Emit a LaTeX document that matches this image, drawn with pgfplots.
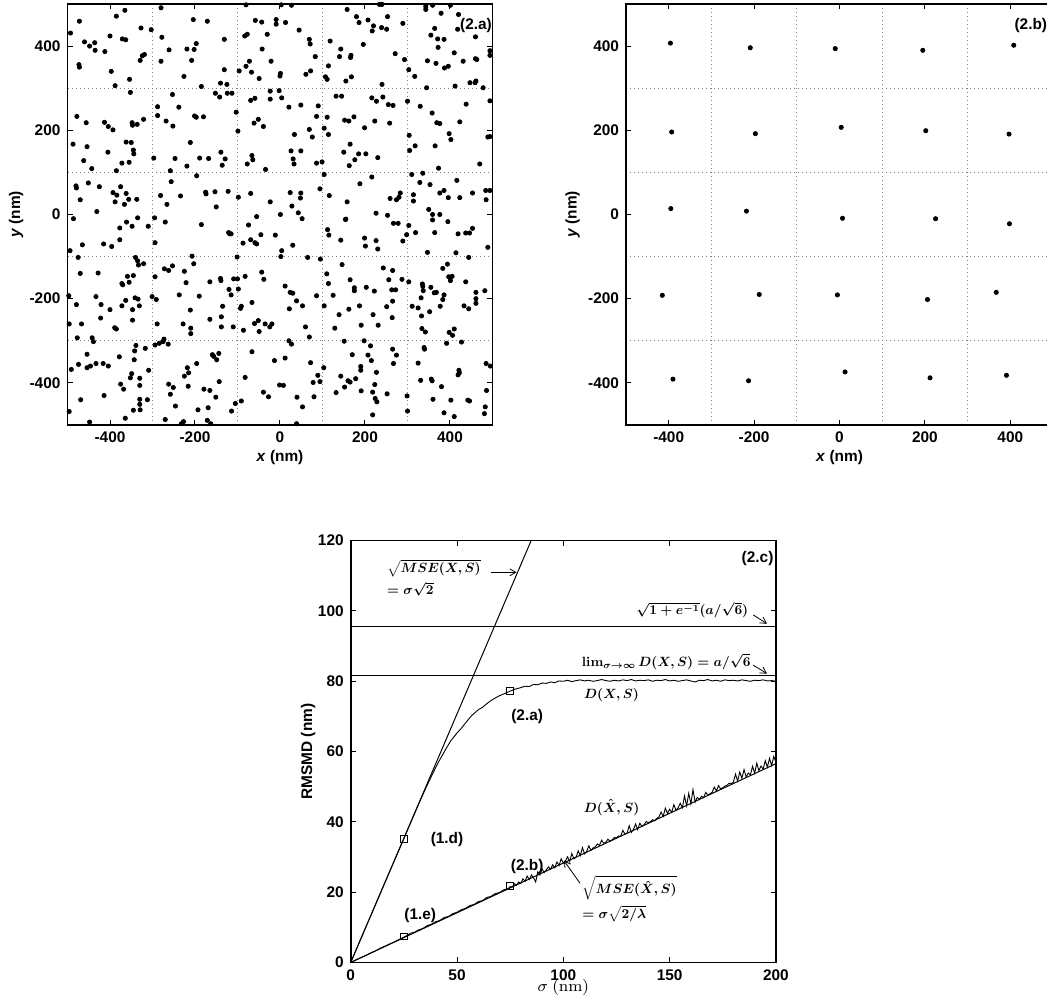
\documentclass[border=0pt]{standalone}
\usepackage[no-math]{fontspec}
\setmainfont{Liberation Sans}
\usepackage{amsmath}
\usepackage{pgfplots}
\pgfplotsset{compat=1.18}
\usetikzlibrary{arrows.meta}

\newcommand{\lab}{\fontsize{7.7}{9}\selectfont\bfseries}
\newcommand{\mth}{\fontsize{10}{12}\selectfont\boldmath}
\tikzset{ann/.style={font=\mth, inner sep=0, scale=0.67}}

\pgfplotsset{
  matlab/.style={
    scale only axis,
    axis line style={line width=0.8pt},
    major tick length=2.5pt,
    tick align=inside,
    tick style={black, line width=0.5pt},
    tick label style={font=\lab},
    /pgf/number format/assume math mode=true,
    label style={font=\lab},
    clip mode=individual,
  },
  field/.style={
    matlab,
    width=212.5pt, height=210.5pt,
    xmin=-500, xmax=500, ymin=-500, ymax=500,
    xtick={-400,-200,0,200,400}, ytick={-400,-200,0,200,400},
    minor xtick={-300,-100,100,300}, minor ytick={-300,-100,100,300},
    minor tick length=0pt,
    xminorgrids=true, yminorgrids=true,
    minor grid style={gray, dash pattern=on 0.5pt off 1.5pt, line width=0.5pt},
    xlabel={\textit{x} (nm)}, ylabel={\textit{y} (nm)},
    xlabel style={at={(axis description cs:0.5,-0.077)}, anchor=center},
  },
  dots/.style={only marks, mark=*, mark size=1.05pt, black},
}

\begin{document}
\begin{tikzpicture}
\useasboundingbox (0,0) rectangle (523.5pt,502pt);

% (2.a) perturbed points
\begin{axis}[field, at={(33.75pt,289.5pt)}, anchor=south west,
  ylabel style={at={(axis description cs:-0.121,0.5)}, anchor=center}]
\addplot[dots] coordinates {
(-493,431) (-472,459) (-460,410) (-448,400) (-436,408) (-435,390) (-473,356) (-472,350)
(-412,387) (-400,424) (-385,471) (-365,485) (-371,417) (-363,415) (-397,340) (-388,306)
(-354,321) (-352,290) (-329,366) (-324,377) (-319,380) (-327,443) (-303,439) (-280,491)
(-278,421) (-280,364) (-261,391) (-226,328) (-219,393) (-208,366) (-204,463) (-202,392)
(-197,406) (-171,459) (-131,416) (-131,344) (-140,312) (-125,309) (-185,304) (-80,498)
(-83,424) (-77,428) (-72,364) (-80,352) (-96,341) (-58,461) (-49,323)
(-478,233) (-456,218) (-487,167) (-454,161) (-462,128) (-443,109) (-413,219) (-404,209)
(-393,201) (-405,148) (-385,104) (-372,122) (-362,172) (-350,171) (-355,124) (-348,218)
(-347,212) (-345,153) (-344,144) (-336,214) (-321,226) (-297,134) (-288,256) (-288,235)
(-268,222) (-252,210) (-253,285) (-238,255) (-247,133) (-258,104) (-211,171) (-219,115)
(-197,231) (-201,234) (-180,232) (-189,134) (-168,133) (-152,288) (-142,279) (-124,288)
(-113,288) (-139,148) (-136,117) (-129,132) (-196,92) (-103,243) (-99,198) (-77,120)
(-66,140) (-64,130) (-69,271) (-59,276) (-61,217) (-51,226)
(-480,68) (-479,63) (-470,35) (-451,75) (-431,7) (-425,66) (-393,52) (-388,30)
(-384,46) (-375,66) (-366,24) (-362,50) (-356,36) (-337,36) (-335,-8) (-486,-10)
(-295,-8) (-281,45) (-266,24) (-256,78) (-234,44) (-175,53) (-174,49) (-153,54)
(-150,18) (-122,55) (-98,41) (-69,50) (-55,-5)
(-43,457) (-9,463) (-9,452) (13,456) (-30,428) (-42,393) (-21,364) (-67,338)
(1,335) (0,329) (45,438) (27,497) (3,498) (69,416) (71,405) (83,375)
(61,333) (72,341) (107,327) (111,321) (114,353) (118,412) (140,375) (143,393)
(167,378) (166,373) (158,487) (180,470) (186,456) (207,462) (220,448) (217,436)
(196,404) (239,444) (251,440) (253,470) (234,499) (240,499) (155,317) (168,327)
(271,382) (289,454) (293,368) (303,344) (317,328) (343,494) (343,487) (359,497)
(379,478) (401,497) (420,475) (364,442) (355,426) (371,417) (386,416) (372,397)
(347,365) (367,359) (387,348) (396,352) (410,384) (431,364) (418,440) (460,422)
(460,370) (463,368) (494,389) (494,378) (447,313) (459,313) (461,317) (478,301)
(345,301) (412,305) (240,309)
(-23,274) (-23,293) (-2,294) (4,277) (21,255) (49,260) (90,258) (86,233)
(-39,209) (34,190) (69,202) (76,184) (104,205) (114,190) (111,231) (132,281)
(145,281) (152,224) (162,222) (174,232) (165,167) (150,148) (163,116) (176,130)
(185,144) (202,144) (199,206) (223,222) (230,135) (258,217) (216,277) (227,269)
(242,279) (255,261) (266,259) (26,151) (31,132) (33,120) (49,151) (86,122)
(99,125) (-34,107) (304,188) (305,152) (318,163) (300,269) (330,257) (358,241)
(369,218) (376,216) (365,163) (398,192) (402,178) (423,220) (438,262) (470,120)
(489,184) (494,185) (373,110) (494,270)
(310,95) (336,98) (329,76) (353,71) (416,81) (376,51) (386,57) (396,40)
(423,40) (453,51) (484,57) (494,57) (485,35) (350,12) (359,0) (376,0)
(314,47) (314,32) (283,51) (280,41) (274,35) (259,38) (253,-2) (226,3)
(188,73) (216,89) (158,30) (116,45) (94,61) (104,95) (49,51) (48,39)
(28,20) (43,4) (24,52) (1,0) (-23,30) (155,-11)
(-494,-86) (-475,-102) (-465,-72) (-470,-140) (-479,-214) (-467,-260) (-477,-293) (-496,-260)
(-497,-193) (-496,-468) (-491,-368) (-469,-440) (-474,-356) (-454,-332) (-454,-364) (-446,-360)
(-442,-293) (-439,-302) (-433,-354) (-448,-493) (-428,-139) (-433,-195) (-421,-214) (-422,-246)
(-415,-70) (-416,-354) (-414,-430) (-404,-360) (-396,-76) (-400,-226) (-389,-269) (-385,-272)
(-377,-60) (-377,-32) (-378,-338) (-375,-403) (-372,-164) (-370,-167) (-372,-217) (-368,-415)
(-364,-484) (-363,-204) (-359,-147) (-355,-161) (-361,-18) (-352,-388) (-349,-378) (-348,-28)
(-347,-226) (-347,-251) (-345,-145) (-343,-345) (-342,-324) (-341,-198) (-334,-201) (-345,-465)
(-340,-102) (-335,-110) (-333,-120) (-339,-311) (-331,-217) (-330,-406) (-330,-389) (-330,-439)
(-330,-451) (-329,-464) (-321,-117) (-317,-318) (-310,-28) (-309,-370) (-312,-440) (-301,-195)
(-294,-67) (-294,-148) (-291,-202) (-294,-310) (-289,-260) (-284,-306) (-275,-302) (-273,-296)
(-270,-18) (-272,-129) (-262,-133) (-263,-308) (-262,-403) (-258,-427) (-251,-411) (-253,-122)
(-246,-455) (-270,-487) (-237,-191) (-228,-260) (-225,-135) (-225,-384) (-221,-162) (-218,-364)
(-216,-408) (-215,-376) (-227,-492) (-232,-497) (-211,-227) (-210,-270) (-210,-283) (-207,-99)
(-203,-117) (-190,-194) (-196,-354) (-193,-464) (-185,-24) (-179,-415) (-171,-489) (-163,-497)
(-169,-459) (-165,-249) (-165,-160) (-165,-418) (-159,-333) (-156,-337) (-149,-345) (-151,-434)
(-144,-330) (-143,-397) (-140,-152) (-139,-157) (-138,-243) (-138,-267) (-135,-218) (-121,-43)
(-118,-46) (-115,-46) (-120,-178) (-115,-191) (-114,-467) (-110,-267) (-109,-153) (-105,-449)
(-101,-101) (-100,-153) (-98,-177) (-91,-218) (-93,-223) (-87,-68) (-86,-275) (-82,-147)
(-82,-387) (-91,-443) (-74,-25) (-69,-60) (-60,-259) (-51,-252) (-49,-278) (-59,-67)
(-55,-70) (-66,-326) (-66,-209)
(-45,-48) (-11,-49) (52,-10) (4,-86) (2,-100) (30,-73) (65,-102) (95,-106)
(-43,-137) (-38,-154) (12,-170) (24,-185) (30,-187) (39,-205) (22,-224) (53,-217)
(86,-193) (-35,-260) (-24,-267) (-19,-260) (21,-300) (27,-308) (60,-267) (69,-291)
(-13,-347) (12,-341) (-1,-405) (8,-406) (-39,-422) (-27,-433) (40,-434) (53,-457)
(39,-497) (72,-352) (78,-399) (89,-382) (94,-397) (80,-433) (103,-364) (110,-141)
(114,-164) (112,-36) (115,-49) (104,-217) (125,-192) (129,-270) (139,-238) (143,-61)
(146,-119) (151,-301) (154,-12) (143,-384) (132,-423) (152,-410) (160,-395) (165,-398)
(165,-155) (162,-225) (170,-333) (175,-174) (175,-181) (178,-390) (187,-217) (190,-361)
(190,-370) (191,-263) (191,-419) (198,-300) (199,-56) (201,-75) (203,-173) (207,-334)
(213,-312) (215,-347) (218,-422) (219,-238) (218,-476) (222,-182) (223,-404) (224,-437)
(228,-445) (226,-62) (227,-375) (231,-263) (230,-82) (243,-127) (251,-219) (252,-426)
(256,-155) (265,-133) (263,-179) (272,-179) (265,-206) (264,-245) (265,-320) (274,-334)
(267,-354) (267,-21) (278,-21) (287,-154) (289,-63) (298,-48) (303,-26) (303,-160)
(299,-431) (300,-467) (311,-218) (319,-43) (325,-222) (325,-353) (331,-394) (333,-241)
(332,-198) (335,-165) (336,-171) (337,-181) (334,-271) (342,-279) (339,-316) (340,-320)
(347,-90) (352,-231) (355,-173) (356,-391) (358,-395) (359,-13) (364,-43) (360,-439)
(363,-186) (368,-185) (377,-218) (380,-409) (383,-202) (386,-191) (383,-128) (386,-471)
(392,-306) (394,-118) (395,-17) (397,-148) (405,-147) (401,-157) (398,-280) (406,-287)
(410,-272) (402,-441) (410,-480) (414,-91) (419,-46) (421,-370) (422,-376) (419,-381)
(427,-303) (433,-217) (437,-44) (446,-44) (437,-160) (444,-102) (444,-224) (442,-441)
(446,-443) (453,-33) (461,-185) (461,-200) (461,-211) (482,-181) (485,-354) (486,-418)
(483,-457) (481,-473) (489,-78) (495,-360)
};
\node[anchor=west, font=\lab, inner sep=0] at (axis cs:423,448) {(2.a)};
\end{axis}

% (2.b) lattice estimate
\begin{axis}[field, width=213.5pt, at={(313pt,289.5pt)}, anchor=south west,
  ylabel style={at={(axis description cs:-0.125,0.5)}, anchor=center}]
\addplot[dots] coordinates {
(-396,407) (-209,396) (-10,394) (195,390) (408,402)
(-393,196) (-197,192) (4,207) (202,199) (397,191)
(-395,14) (-218,8) (7,-9) (225,-10) (398,-22)
(-415,-192) (-188,-190) (-5,-191) (206,-202) (367,-185)
(-390,-391) (-213,-395) (13,-374) (212,-388) (391,-382)
};
\node[anchor=west, font=\lab, inner sep=0] at (axis cs:409,450) {(2.b)};
\end{axis}

% (2.c) RMSMD versus sigma
\begin{axis}[matlab, width=212.6pt, height=210.9pt,
  at={(175.35pt,20.75pt)}, anchor=south west,
  xmin=0, xmax=200, ymin=0, ymax=120,
  xtick={0,50,100,150,200}, ytick={0,20,40,60,80,100,120},
  xlabel={$\sigma\ \mathrm{(nm)}$}, ylabel={RMSMD (nm)},
  xlabel style={at={(axis description cs:0.5,-0.06)}, anchor=center, font=\fontsize{8}{9}\selectfont},
  ylabel style={at={(axis description cs:-0.1,0.5)}, anchor=center}]
\addplot[black, line width=0.5pt] coordinates {(0,0) (90,127.28)};
\addplot[black, line width=0.5pt] coordinates {(0,95.5) (200,95.5)};
\addplot[black, line width=0.5pt] coordinates {(0,81.65) (200,81.65)};
\addplot[black, line width=0.5pt] coordinates {(0,0) (200,56.57)};
% D(X,S)
\addplot[black, line width=0.45pt] coordinates {
(0,0) (5,7.07) (10,14.1) (15,21.2) (20,28.2) (25,35.2) (28,39.5) (30,42.3)
(32,45.1) (35,49.2) (38,53.0) (40,55.5) (42,57.8) (45,61.0) (47,63.0) (50,65.3)
(52,66.6) (55,68.9) (57,70.3) (60,71.9) (62,72.6) (65,74.1) (67,74.9) (70,75.9)
(72,76.4) (75,77.2) (77,77.7) (80,78.2) (82,78.6) (84,78.5) (86,79.1) (88,79.0)
(90,79.5) (92,79.4) (94,79.8) (96,79.6) (98,80.1) (100,80.0) (102,80.3) (104,79.9)
(106,80.2) (108,80.4) (110,80.1) (112,80.3) (114,80.0) (116,80.2) (118,80.5) (120,80.2)
(122,80.0) (124,80.3) (126,80.1) (128,80.4) (130,80.2) (132,80.5) (134,80.1) (136,80.3)
(138,80.2) (140,80.4) (142,80.0) (144,80.3) (146,80.2) (148,80.5) (150,80.1) (152,80.3)
(154,80.0) (156,80.2) (158,80.4) (160,80.1) (162,79.8) (164,80.3) (166,80.2) (168,80.5)
(170,80.1) (172,80.3) (174,80.0) (176,80.4) (178,80.2) (180,80.3) (182,80.1) (184,80.4)
(186,80.2) (188,80.0) (190,80.3) (192,80.2) (194,80.4) (196,80.1) (198,80.2) (200,80.0)
};
% D(Xhat,S)
\addplot[black, line width=0.45pt] coordinates {
(0,0) (2,0.6) (4,1.2) (6,1.7) (8,2.3) (10,2.9) (12,3.4) (14,4.1) (16,4.6) (18,5.2)
(20,5.7) (22,6.3) (24,6.9) (26,7.5) (28,8.3) (30,8.6) (32,9.3) (34,9.7) (36,10.5)
(38,10.9) (40,11.6) (42,12.0) (44,12.8) (46,13.1) (48,13.9) (50,14.3) (52,15.0)
(54,15.4) (56,16.2) (58,16.5) (60,17.3) (62,17.6) (64,18.5) (66,18.8) (68,19.6)
(70,19.9) (72,20.7) (74,21.0) (75,21.6) (76,21.5) (77,22.4) (78,22.0) (79,22.9)
(80,22.5) (81,23.8) (82,23.1) (83,24.6) (84,23.6) (85,24.9) (86,24.1) (87,22.9)
(88,25.8) (89,24.9) (90,26.6) (91,25.6) (92,26.4) (93,27.2) (94,26.5) (95,27.8)
(96,26.9) (97,28.6) (98,27.6) (99,29.5) (100,28.3) (101,28.9) (102,30.1) (103,28.7)
(104,31.0) (105,29.5) (106,29.9) (107,31.8) (108,30.4) (109,32.7) (110,30.9) (111,31.6)
(112,33.2) (113,31.9) (114,32.6) (115,32.9) (116,33.7) (117,33.3) (118,34.8) (119,33.9)
(120,34.2) (121,35.1) (122,34.5) (123,34.9) (124,35.6) (125,35.4) (126,36.0) (127,35.9)
(128,37.6) (129,36.5) (130,36.8) (131,38.9) (132,37.0) (133,37.9) (134,39.4) (135,37.8)
(136,39.6) (137,38.7) (138,39.2) (139,40.1) (140,39.8) (141,40.0) (142,40.6) (143,40.3)
(144,41.0) (145,41.4) (146,42.8) (147,41.6) (148,43.9) (149,42.4) (150,43.6) (151,42.7)
(152,44.9) (153,43.3) (154,44.0) (155,45.3) (156,44.0) (157,47.4) (158,44.6) (159,48.1)
(160,45.1) (161,49.2) (162,45.6) (163,47.0) (164,46.4) (165,47.3) (166,46.9) (167,48.4)
(168,47.6) (169,48.0) (170,48.4) (171,49.9) (172,48.8) (173,50.3) (174,49.4) (175,49.7)
(176,50.2) (177,50.4) (178,51.0) (179,50.9) (180,51.3) (181,53.6) (182,51.6) (183,54.2)
(184,52.4) (185,54.9) (186,52.8) (187,53.9) (188,53.4) (189,55.8) (190,53.9) (191,56.7)
(192,54.6) (193,55.9) (194,55.0) (195,57.4) (196,55.6) (197,58.1) (198,56.0) (199,58.6)
(200,57.0)
};
\addplot[only marks, mark=square, mark size=1.7pt, black, mark options={fill=white, line width=0.45pt}]
  coordinates {(25,35.2) (75,77.3) (25,7.4) (75,21.7)};

\node[ann, anchor=north west, align=left] at (axis cs:17,114.6)
  {$\sqrt{MSE(X,S)}$\\[3pt]$=\sigma\sqrt{2}$};
\draw[-{Straight Barb[length=3pt,width=3.5pt]}, line width=0.4pt] (axis cs:66,111) -- (axis cs:78,111);
\node[ann] at (axis cs:160.7,100.2) {$\sqrt{1+e^{-1}}(a/\sqrt{6})$};
\draw[-{Straight Barb[length=3pt,width=3.5pt]}, line width=0.4pt] (axis cs:189.3,98.9) -- (axis cs:195.8,96.4);
\node[ann] at (axis cs:148.4,85.6) {$\lim_{\sigma\to\infty}D(X,S)=a/\sqrt{6}$};
\draw[-{Straight Barb[length=3pt,width=3.5pt]}, line width=0.4pt] (axis cs:189.3,84.6) -- (axis cs:195.8,82.2);
\node[ann] at (axis cs:122.7,76.1) {$D(X,S)$};
\node[ann] at (axis cs:122.7,44.1) {$D(\hat{X},S)$};
\node[ann, anchor=north west, align=left] at (axis cs:108.8,24.8)
  {$\sqrt{MSE(\hat{X},S)}$\\[3pt]$=\sigma\sqrt{2/\lambda}$};
\draw[-{Straight Barb[length=3pt,width=3.5pt]}, line width=0.4pt] (axis cs:107.9,22.5) -- (axis cs:100.3,29.0);
\node[font=\lab, inner sep=0] at (axis cs:83,70.0) {(2.a)};
\node[font=\lab, inner sep=0] at (axis cs:45.3,35.0) {(1.d)};
\node[font=\lab, inner sep=0] at (axis cs:32.7,13.5) {(1.e)};
\node[font=\lab, inner sep=0] at (axis cs:83,27.2) {(2.b)};
\node[anchor=east, font=\lab, inner sep=0] at (axis cs:199,114.8) {(2.c)};
\end{axis}
\end{tikzpicture}
\end{document}
